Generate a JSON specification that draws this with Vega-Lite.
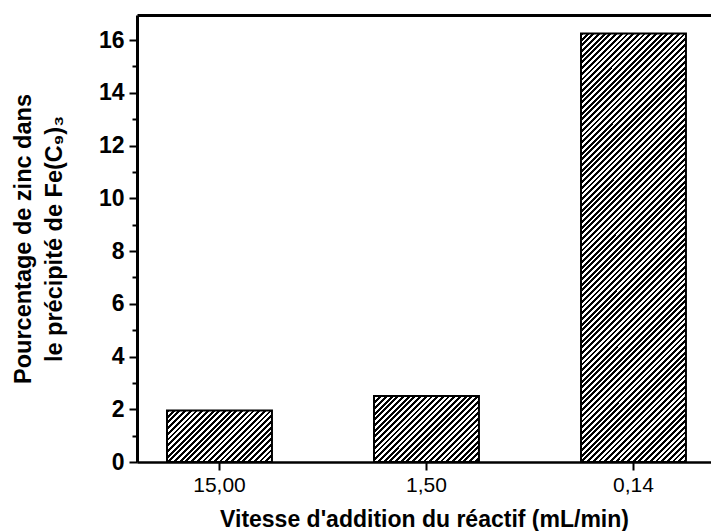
{
  "$schema": "https://vega.github.io/schema/vega-lite/v6.json",
  "width": 574,
  "height": 447,
  "autosize": {"type": "none"},
  "padding": {"left": 137, "top": 15, "right": 0, "bottom": 69},
  "background": "white",
  "config": {"view": {"stroke": null}, "font": "Liberation Sans"},
  "data": {"values": [
    {"vitesse": "15,00", "pct": 1.95},
    {"vitesse": "1,50", "pct": 2.5},
    {"vitesse": "0,14", "pct": 16.25}
  ]},
  "layer": [
    {
      "mark": {"type": "bar", "stroke": "black", "strokeWidth": 2},
      "encoding": {
        "x": {
          "field": "vitesse", "type": "nominal",
          "scale": {"domain": ["15,00", "1,50", "0,14"], "paddingInner": 0.493, "paddingOuter": 0.133, "align": 0.545},
          "axis": {
            "orient": "bottom", "labelAngle": 0, "labelFontSize": 21, "labelColor": "black",
            "labelPadding": 4, "tickSize": 8, "tickWidth": 2, "tickColor": "black",
            "domainColor": "black", "domainWidth": 2.5,
            "title": "Vitesse d'addition du réactif (mL/min)", "titleFontSize": 23,
            "titleFontWeight": "bold", "titleColor": "black", "titlePadding": 13
          }
        },
        "y": {
          "field": "pct", "type": "quantitative",
          "scale": {"domain": [0, 16.95], "nice": false},
          "axis": {
            "values": [0, 2, 4, 6, 8, 10, 12, 14, 16], "grid": false,
            "tickSize": 8, "tickWidth": 2, "tickColor": "black",
            "domainColor": "black", "domainWidth": 3,
            "labelFontSize": 23, "labelFontWeight": "bold", "labelColor": "black", "labelPadding": 5,
            "title": ["Pourcentage de zinc dans", "le précipité de Fe(C₉)₃"],
            "titleFontSize": 23.5, "titleFontWeight": "bold", "titleColor": "black",
            "titleLineHeight": 31, "titlePadding": 32
          }
        },
        "fill": {
          "condition": [
            {"test": "datum.vitesse === '15,00'", "value": {"gradient": "linear", "x1": 0, "y1": 0, "x2": 4.378, "y2": 2.144, "stops": [
{"offset":0,"color":"#000"},
{"offset":0.005,"color":"#000"},{"offset":0.005,"color":"#fff"},{"offset":0.01,"color":"#fff"},{"offset":0.01,"color":"#000"},
{"offset":0.015,"color":"#000"},{"offset":0.015,"color":"#fff"},{"offset":0.02,"color":"#fff"},{"offset":0.02,"color":"#000"},
{"offset":0.025,"color":"#000"},{"offset":0.025,"color":"#fff"},{"offset":0.03,"color":"#fff"},{"offset":0.03,"color":"#000"},
{"offset":0.035,"color":"#000"},{"offset":0.035,"color":"#fff"},{"offset":0.04,"color":"#fff"},{"offset":0.04,"color":"#000"},
{"offset":0.045,"color":"#000"},{"offset":0.045,"color":"#fff"},{"offset":0.05,"color":"#fff"},{"offset":0.05,"color":"#000"},
{"offset":0.055,"color":"#000"},{"offset":0.055,"color":"#fff"},{"offset":0.06,"color":"#fff"},{"offset":0.06,"color":"#000"},
{"offset":0.065,"color":"#000"},{"offset":0.065,"color":"#fff"},{"offset":0.07,"color":"#fff"},{"offset":0.07,"color":"#000"},
{"offset":0.075,"color":"#000"},{"offset":0.075,"color":"#fff"},{"offset":0.08,"color":"#fff"},{"offset":0.08,"color":"#000"},
{"offset":0.085,"color":"#000"},{"offset":0.085,"color":"#fff"},{"offset":0.09,"color":"#fff"},{"offset":0.09,"color":"#000"},
{"offset":0.095,"color":"#000"},{"offset":0.095,"color":"#fff"},{"offset":0.1,"color":"#fff"},{"offset":0.1,"color":"#000"},
{"offset":0.105,"color":"#000"},{"offset":0.105,"color":"#fff"},{"offset":0.11,"color":"#fff"},{"offset":0.11,"color":"#000"},
{"offset":0.115,"color":"#000"},{"offset":0.115,"color":"#fff"},{"offset":0.12,"color":"#fff"},{"offset":0.12,"color":"#000"},
{"offset":0.125,"color":"#000"},{"offset":0.125,"color":"#fff"},{"offset":0.13,"color":"#fff"},{"offset":0.13,"color":"#000"},
{"offset":0.135,"color":"#000"},{"offset":0.135,"color":"#fff"},{"offset":0.14,"color":"#fff"},{"offset":0.14,"color":"#000"},
{"offset":0.145,"color":"#000"},{"offset":0.145,"color":"#fff"},{"offset":0.15,"color":"#fff"},{"offset":0.15,"color":"#000"},
{"offset":0.155,"color":"#000"},{"offset":0.155,"color":"#fff"},{"offset":0.16,"color":"#fff"},{"offset":0.16,"color":"#000"},
{"offset":0.165,"color":"#000"},{"offset":0.165,"color":"#fff"},{"offset":0.17,"color":"#fff"},{"offset":0.17,"color":"#000"},
{"offset":0.175,"color":"#000"},{"offset":0.175,"color":"#fff"},{"offset":0.18,"color":"#fff"},{"offset":0.18,"color":"#000"},
{"offset":0.185,"color":"#000"},{"offset":0.185,"color":"#fff"},{"offset":0.19,"color":"#fff"},{"offset":0.19,"color":"#000"},
{"offset":0.195,"color":"#000"},{"offset":0.195,"color":"#fff"},{"offset":0.2,"color":"#fff"},{"offset":0.2,"color":"#000"},
{"offset":0.205,"color":"#000"},{"offset":0.205,"color":"#fff"},{"offset":0.21,"color":"#fff"},{"offset":0.21,"color":"#000"},
{"offset":0.215,"color":"#000"},{"offset":0.215,"color":"#fff"},{"offset":0.22,"color":"#fff"},{"offset":0.22,"color":"#000"},
{"offset":0.225,"color":"#000"},{"offset":0.225,"color":"#fff"},{"offset":0.23,"color":"#fff"},{"offset":0.23,"color":"#000"},
{"offset":0.235,"color":"#000"},{"offset":0.235,"color":"#fff"},{"offset":0.24,"color":"#fff"},{"offset":0.24,"color":"#000"},
{"offset":0.245,"color":"#000"},{"offset":0.245,"color":"#fff"},{"offset":0.25,"color":"#fff"},{"offset":0.25,"color":"#000"},
{"offset":0.255,"color":"#000"},{"offset":0.255,"color":"#fff"},{"offset":0.26,"color":"#fff"},{"offset":0.26,"color":"#000"},
{"offset":0.265,"color":"#000"},{"offset":0.265,"color":"#fff"},{"offset":0.27,"color":"#fff"},{"offset":0.27,"color":"#000"},
{"offset":0.275,"color":"#000"},{"offset":0.275,"color":"#fff"},{"offset":0.28,"color":"#fff"},{"offset":0.28,"color":"#000"}
            ]}},
            {"test": "datum.vitesse === '1,50'", "value": {"gradient": "linear", "x1": 0, "y1": 0, "x2": 3.893, "y2": 2.445, "stops": [
{"offset":0,"color":"#000"},
{"offset":0.005,"color":"#000"},{"offset":0.005,"color":"#fff"},{"offset":0.01,"color":"#fff"},{"offset":0.01,"color":"#000"},
{"offset":0.015,"color":"#000"},{"offset":0.015,"color":"#fff"},{"offset":0.02,"color":"#fff"},{"offset":0.02,"color":"#000"},
{"offset":0.025,"color":"#000"},{"offset":0.025,"color":"#fff"},{"offset":0.03,"color":"#fff"},{"offset":0.03,"color":"#000"},
{"offset":0.035,"color":"#000"},{"offset":0.035,"color":"#fff"},{"offset":0.04,"color":"#fff"},{"offset":0.04,"color":"#000"},
{"offset":0.045,"color":"#000"},{"offset":0.045,"color":"#fff"},{"offset":0.05,"color":"#fff"},{"offset":0.05,"color":"#000"},
{"offset":0.055,"color":"#000"},{"offset":0.055,"color":"#fff"},{"offset":0.06,"color":"#fff"},{"offset":0.06,"color":"#000"},
{"offset":0.065,"color":"#000"},{"offset":0.065,"color":"#fff"},{"offset":0.07,"color":"#fff"},{"offset":0.07,"color":"#000"},
{"offset":0.075,"color":"#000"},{"offset":0.075,"color":"#fff"},{"offset":0.08,"color":"#fff"},{"offset":0.08,"color":"#000"},
{"offset":0.085,"color":"#000"},{"offset":0.085,"color":"#fff"},{"offset":0.09,"color":"#fff"},{"offset":0.09,"color":"#000"},
{"offset":0.095,"color":"#000"},{"offset":0.095,"color":"#fff"},{"offset":0.1,"color":"#fff"},{"offset":0.1,"color":"#000"},
{"offset":0.105,"color":"#000"},{"offset":0.105,"color":"#fff"},{"offset":0.11,"color":"#fff"},{"offset":0.11,"color":"#000"},
{"offset":0.115,"color":"#000"},{"offset":0.115,"color":"#fff"},{"offset":0.12,"color":"#fff"},{"offset":0.12,"color":"#000"},
{"offset":0.125,"color":"#000"},{"offset":0.125,"color":"#fff"},{"offset":0.13,"color":"#fff"},{"offset":0.13,"color":"#000"},
{"offset":0.135,"color":"#000"},{"offset":0.135,"color":"#fff"},{"offset":0.14,"color":"#fff"},{"offset":0.14,"color":"#000"},
{"offset":0.145,"color":"#000"},{"offset":0.145,"color":"#fff"},{"offset":0.15,"color":"#fff"},{"offset":0.15,"color":"#000"},
{"offset":0.155,"color":"#000"},{"offset":0.155,"color":"#fff"},{"offset":0.16,"color":"#fff"},{"offset":0.16,"color":"#000"},
{"offset":0.165,"color":"#000"},{"offset":0.165,"color":"#fff"},{"offset":0.17,"color":"#fff"},{"offset":0.17,"color":"#000"},
{"offset":0.175,"color":"#000"},{"offset":0.175,"color":"#fff"},{"offset":0.18,"color":"#fff"},{"offset":0.18,"color":"#000"},
{"offset":0.185,"color":"#000"},{"offset":0.185,"color":"#fff"},{"offset":0.19,"color":"#fff"},{"offset":0.19,"color":"#000"},
{"offset":0.195,"color":"#000"},{"offset":0.195,"color":"#fff"},{"offset":0.2,"color":"#fff"},{"offset":0.2,"color":"#000"},
{"offset":0.205,"color":"#000"},{"offset":0.205,"color":"#fff"},{"offset":0.21,"color":"#fff"},{"offset":0.21,"color":"#000"},
{"offset":0.215,"color":"#000"},{"offset":0.215,"color":"#fff"},{"offset":0.22,"color":"#fff"},{"offset":0.22,"color":"#000"},
{"offset":0.225,"color":"#000"},{"offset":0.225,"color":"#fff"},{"offset":0.23,"color":"#fff"},{"offset":0.23,"color":"#000"},
{"offset":0.235,"color":"#000"},{"offset":0.235,"color":"#fff"},{"offset":0.24,"color":"#fff"},{"offset":0.24,"color":"#000"},
{"offset":0.245,"color":"#000"},{"offset":0.245,"color":"#fff"},{"offset":0.25,"color":"#fff"},{"offset":0.25,"color":"#000"},
{"offset":0.255,"color":"#000"},{"offset":0.255,"color":"#fff"},{"offset":0.26,"color":"#fff"},{"offset":0.26,"color":"#000"},
{"offset":0.265,"color":"#000"},{"offset":0.265,"color":"#fff"},{"offset":0.27,"color":"#fff"},{"offset":0.27,"color":"#000"},
{"offset":0.275,"color":"#000"},{"offset":0.275,"color":"#fff"},{"offset":0.28,"color":"#fff"},{"offset":0.28,"color":"#000"},
{"offset":0.285,"color":"#000"},{"offset":0.285,"color":"#fff"},{"offset":0.29,"color":"#fff"},{"offset":0.29,"color":"#000"},
{"offset":0.295,"color":"#000"},{"offset":0.295,"color":"#fff"},{"offset":0.3,"color":"#fff"},{"offset":0.3,"color":"#000"},
{"offset":0.305,"color":"#000"},{"offset":0.305,"color":"#fff"}
            ]}}
          ],
          "value": {"gradient": "linear", "x1": 0, "y1": 0, "x2": 0.3074, "y2": 1.2548, "stops": [
{"offset":0,"color":"#000"},
{"offset":0.005,"color":"#000"},{"offset":0.005,"color":"#fff"},{"offset":0.01,"color":"#fff"},{"offset":0.01,"color":"#000"},
{"offset":0.015,"color":"#000"},{"offset":0.015,"color":"#fff"},{"offset":0.02,"color":"#fff"},{"offset":0.02,"color":"#000"},
{"offset":0.025,"color":"#000"},{"offset":0.025,"color":"#fff"},{"offset":0.03,"color":"#fff"},{"offset":0.03,"color":"#000"},
{"offset":0.035,"color":"#000"},{"offset":0.035,"color":"#fff"},{"offset":0.04,"color":"#fff"},{"offset":0.04,"color":"#000"},
{"offset":0.045,"color":"#000"},{"offset":0.045,"color":"#fff"},{"offset":0.05,"color":"#fff"},{"offset":0.05,"color":"#000"},
{"offset":0.055,"color":"#000"},{"offset":0.055,"color":"#fff"},{"offset":0.06,"color":"#fff"},{"offset":0.06,"color":"#000"},
{"offset":0.065,"color":"#000"},{"offset":0.065,"color":"#fff"},{"offset":0.07,"color":"#fff"},{"offset":0.07,"color":"#000"},
{"offset":0.075,"color":"#000"},{"offset":0.075,"color":"#fff"},{"offset":0.08,"color":"#fff"},{"offset":0.08,"color":"#000"},
{"offset":0.085,"color":"#000"},{"offset":0.085,"color":"#fff"},{"offset":0.09,"color":"#fff"},{"offset":0.09,"color":"#000"},
{"offset":0.095,"color":"#000"},{"offset":0.095,"color":"#fff"},{"offset":0.1,"color":"#fff"},{"offset":0.1,"color":"#000"},
{"offset":0.105,"color":"#000"},{"offset":0.105,"color":"#fff"},{"offset":0.11,"color":"#fff"},{"offset":0.11,"color":"#000"},
{"offset":0.115,"color":"#000"},{"offset":0.115,"color":"#fff"},{"offset":0.12,"color":"#fff"},{"offset":0.12,"color":"#000"},
{"offset":0.125,"color":"#000"},{"offset":0.125,"color":"#fff"},{"offset":0.13,"color":"#fff"},{"offset":0.13,"color":"#000"},
{"offset":0.135,"color":"#000"},{"offset":0.135,"color":"#fff"},{"offset":0.14,"color":"#fff"},{"offset":0.14,"color":"#000"},
{"offset":0.145,"color":"#000"},{"offset":0.145,"color":"#fff"},{"offset":0.15,"color":"#fff"},{"offset":0.15,"color":"#000"},
{"offset":0.155,"color":"#000"},{"offset":0.155,"color":"#fff"},{"offset":0.16,"color":"#fff"},{"offset":0.16,"color":"#000"},
{"offset":0.165,"color":"#000"},{"offset":0.165,"color":"#fff"},{"offset":0.17,"color":"#fff"},{"offset":0.17,"color":"#000"},
{"offset":0.175,"color":"#000"},{"offset":0.175,"color":"#fff"},{"offset":0.18,"color":"#fff"},{"offset":0.18,"color":"#000"},
{"offset":0.185,"color":"#000"},{"offset":0.185,"color":"#fff"},{"offset":0.19,"color":"#fff"},{"offset":0.19,"color":"#000"},
{"offset":0.195,"color":"#000"},{"offset":0.195,"color":"#fff"},{"offset":0.2,"color":"#fff"},{"offset":0.2,"color":"#000"},
{"offset":0.205,"color":"#000"},{"offset":0.205,"color":"#fff"},{"offset":0.21,"color":"#fff"},{"offset":0.21,"color":"#000"},
{"offset":0.215,"color":"#000"},{"offset":0.215,"color":"#fff"},{"offset":0.22,"color":"#fff"},{"offset":0.22,"color":"#000"},
{"offset":0.225,"color":"#000"},{"offset":0.225,"color":"#fff"},{"offset":0.23,"color":"#fff"},{"offset":0.23,"color":"#000"},
{"offset":0.235,"color":"#000"},{"offset":0.235,"color":"#fff"},{"offset":0.24,"color":"#fff"},{"offset":0.24,"color":"#000"},
{"offset":0.245,"color":"#000"},{"offset":0.245,"color":"#fff"},{"offset":0.25,"color":"#fff"},{"offset":0.25,"color":"#000"},
{"offset":0.255,"color":"#000"},{"offset":0.255,"color":"#fff"},{"offset":0.26,"color":"#fff"},{"offset":0.26,"color":"#000"},
{"offset":0.265,"color":"#000"},{"offset":0.265,"color":"#fff"},{"offset":0.27,"color":"#fff"},{"offset":0.27,"color":"#000"},
{"offset":0.275,"color":"#000"},{"offset":0.275,"color":"#fff"},{"offset":0.28,"color":"#fff"},{"offset":0.28,"color":"#000"},
{"offset":0.285,"color":"#000"},{"offset":0.285,"color":"#fff"},{"offset":0.29,"color":"#fff"},{"offset":0.29,"color":"#000"},
{"offset":0.295,"color":"#000"},{"offset":0.295,"color":"#fff"},{"offset":0.3,"color":"#fff"},{"offset":0.3,"color":"#000"},
{"offset":0.305,"color":"#000"},{"offset":0.305,"color":"#fff"},{"offset":0.31,"color":"#fff"},{"offset":0.31,"color":"#000"},
{"offset":0.315,"color":"#000"},{"offset":0.315,"color":"#fff"},{"offset":0.32,"color":"#fff"},{"offset":0.32,"color":"#000"},
{"offset":0.325,"color":"#000"},{"offset":0.325,"color":"#fff"},{"offset":0.33,"color":"#fff"},{"offset":0.33,"color":"#000"},
{"offset":0.335,"color":"#000"},{"offset":0.335,"color":"#fff"},{"offset":0.34,"color":"#fff"},{"offset":0.34,"color":"#000"},
{"offset":0.345,"color":"#000"},{"offset":0.345,"color":"#fff"},{"offset":0.35,"color":"#fff"},{"offset":0.35,"color":"#000"},
{"offset":0.355,"color":"#000"},{"offset":0.355,"color":"#fff"},{"offset":0.36,"color":"#fff"},{"offset":0.36,"color":"#000"},
{"offset":0.365,"color":"#000"},{"offset":0.365,"color":"#fff"},{"offset":0.37,"color":"#fff"},{"offset":0.37,"color":"#000"},
{"offset":0.375,"color":"#000"},{"offset":0.375,"color":"#fff"},{"offset":0.38,"color":"#fff"},{"offset":0.38,"color":"#000"},
{"offset":0.385,"color":"#000"},{"offset":0.385,"color":"#fff"},{"offset":0.39,"color":"#fff"},{"offset":0.39,"color":"#000"},
{"offset":0.395,"color":"#000"},{"offset":0.395,"color":"#fff"},{"offset":0.4,"color":"#fff"},{"offset":0.4,"color":"#000"},
{"offset":0.405,"color":"#000"},{"offset":0.405,"color":"#fff"},{"offset":0.41,"color":"#fff"},{"offset":0.41,"color":"#000"},
{"offset":0.415,"color":"#000"},{"offset":0.415,"color":"#fff"},{"offset":0.42,"color":"#fff"},{"offset":0.42,"color":"#000"},
{"offset":0.425,"color":"#000"},{"offset":0.425,"color":"#fff"},{"offset":0.43,"color":"#fff"},{"offset":0.43,"color":"#000"},
{"offset":0.435,"color":"#000"},{"offset":0.435,"color":"#fff"},{"offset":0.44,"color":"#fff"},{"offset":0.44,"color":"#000"},
{"offset":0.445,"color":"#000"},{"offset":0.445,"color":"#fff"},{"offset":0.45,"color":"#fff"},{"offset":0.45,"color":"#000"},
{"offset":0.455,"color":"#000"},{"offset":0.455,"color":"#fff"},{"offset":0.46,"color":"#fff"},{"offset":0.46,"color":"#000"},
{"offset":0.465,"color":"#000"},{"offset":0.465,"color":"#fff"},{"offset":0.47,"color":"#fff"},{"offset":0.47,"color":"#000"},
{"offset":0.475,"color":"#000"},{"offset":0.475,"color":"#fff"},{"offset":0.48,"color":"#fff"},{"offset":0.48,"color":"#000"},
{"offset":0.485,"color":"#000"},{"offset":0.485,"color":"#fff"},{"offset":0.49,"color":"#fff"},{"offset":0.49,"color":"#000"},
{"offset":0.495,"color":"#000"},{"offset":0.495,"color":"#fff"},{"offset":0.5,"color":"#fff"},{"offset":0.5,"color":"#000"},
{"offset":0.505,"color":"#000"},{"offset":0.505,"color":"#fff"},{"offset":0.51,"color":"#fff"},{"offset":0.51,"color":"#000"},
{"offset":0.515,"color":"#000"},{"offset":0.515,"color":"#fff"},{"offset":0.52,"color":"#fff"},{"offset":0.52,"color":"#000"},
{"offset":0.525,"color":"#000"},{"offset":0.525,"color":"#fff"},{"offset":0.53,"color":"#fff"},{"offset":0.53,"color":"#000"},
{"offset":0.535,"color":"#000"},{"offset":0.535,"color":"#fff"},{"offset":0.54,"color":"#fff"},{"offset":0.54,"color":"#000"},
{"offset":0.545,"color":"#000"},{"offset":0.545,"color":"#fff"},{"offset":0.55,"color":"#fff"},{"offset":0.55,"color":"#000"},
{"offset":0.555,"color":"#000"},{"offset":0.555,"color":"#fff"},{"offset":0.56,"color":"#fff"},{"offset":0.56,"color":"#000"},
{"offset":0.565,"color":"#000"},{"offset":0.565,"color":"#fff"},{"offset":0.57,"color":"#fff"},{"offset":0.57,"color":"#000"},
{"offset":0.575,"color":"#000"},{"offset":0.575,"color":"#fff"},{"offset":0.58,"color":"#fff"},{"offset":0.58,"color":"#000"},
{"offset":0.585,"color":"#000"},{"offset":0.585,"color":"#fff"},{"offset":0.59,"color":"#fff"},{"offset":0.59,"color":"#000"},
{"offset":0.595,"color":"#000"},{"offset":0.595,"color":"#fff"},{"offset":0.6,"color":"#fff"},{"offset":0.6,"color":"#000"},
{"offset":0.605,"color":"#000"},{"offset":0.605,"color":"#fff"},{"offset":0.61,"color":"#fff"},{"offset":0.61,"color":"#000"},
{"offset":0.615,"color":"#000"},{"offset":0.615,"color":"#fff"},{"offset":0.62,"color":"#fff"},{"offset":0.62,"color":"#000"},
{"offset":0.625,"color":"#000"},{"offset":0.625,"color":"#fff"},{"offset":0.63,"color":"#fff"},{"offset":0.63,"color":"#000"},
{"offset":0.635,"color":"#000"},{"offset":0.635,"color":"#fff"},{"offset":0.64,"color":"#fff"},{"offset":0.64,"color":"#000"},
{"offset":0.645,"color":"#000"},{"offset":0.645,"color":"#fff"},{"offset":0.65,"color":"#fff"},{"offset":0.65,"color":"#000"},
{"offset":0.655,"color":"#000"},{"offset":0.655,"color":"#fff"},{"offset":0.66,"color":"#fff"},{"offset":0.66,"color":"#000"},
{"offset":0.665,"color":"#000"},{"offset":0.665,"color":"#fff"},{"offset":0.67,"color":"#fff"},{"offset":0.67,"color":"#000"},
{"offset":0.675,"color":"#000"},{"offset":0.675,"color":"#fff"},{"offset":0.68,"color":"#fff"},{"offset":0.68,"color":"#000"},
{"offset":0.685,"color":"#000"},{"offset":0.685,"color":"#fff"},{"offset":0.69,"color":"#fff"},{"offset":0.69,"color":"#000"},
{"offset":0.695,"color":"#000"},{"offset":0.695,"color":"#fff"},{"offset":0.7,"color":"#fff"},{"offset":0.7,"color":"#000"},
{"offset":0.705,"color":"#000"},{"offset":0.705,"color":"#fff"},{"offset":0.71,"color":"#fff"},{"offset":0.71,"color":"#000"},
{"offset":0.715,"color":"#000"},{"offset":0.715,"color":"#fff"},{"offset":0.72,"color":"#fff"},{"offset":0.72,"color":"#000"},
{"offset":0.725,"color":"#000"},{"offset":0.725,"color":"#fff"},{"offset":0.73,"color":"#fff"},{"offset":0.73,"color":"#000"},
{"offset":0.735,"color":"#000"},{"offset":0.735,"color":"#fff"},{"offset":0.74,"color":"#fff"},{"offset":0.74,"color":"#000"},
{"offset":0.745,"color":"#000"},{"offset":0.745,"color":"#fff"},{"offset":0.75,"color":"#fff"},{"offset":0.75,"color":"#000"},
{"offset":0.755,"color":"#000"},{"offset":0.755,"color":"#fff"},{"offset":0.76,"color":"#fff"},{"offset":0.76,"color":"#000"},
{"offset":0.765,"color":"#000"},{"offset":0.765,"color":"#fff"},{"offset":0.77,"color":"#fff"},{"offset":0.77,"color":"#000"},
{"offset":0.775,"color":"#000"},{"offset":0.775,"color":"#fff"},{"offset":0.78,"color":"#fff"},{"offset":0.78,"color":"#000"},
{"offset":0.785,"color":"#000"},{"offset":0.785,"color":"#fff"},{"offset":0.79,"color":"#fff"},{"offset":0.79,"color":"#000"},
{"offset":0.795,"color":"#000"},{"offset":0.795,"color":"#fff"},{"offset":0.8,"color":"#fff"},{"offset":0.8,"color":"#000"},
{"offset":0.805,"color":"#000"},{"offset":0.805,"color":"#fff"},{"offset":0.81,"color":"#fff"},{"offset":0.81,"color":"#000"},
{"offset":0.815,"color":"#000"},{"offset":0.815,"color":"#fff"},{"offset":0.82,"color":"#fff"},{"offset":0.82,"color":"#000"},
{"offset":0.825,"color":"#000"},{"offset":0.825,"color":"#fff"},{"offset":0.83,"color":"#fff"},{"offset":0.83,"color":"#000"},
{"offset":0.835,"color":"#000"},{"offset":0.835,"color":"#fff"},{"offset":0.84,"color":"#fff"},{"offset":0.84,"color":"#000"},
{"offset":0.845,"color":"#000"},{"offset":0.845,"color":"#fff"},{"offset":0.85,"color":"#fff"},{"offset":0.85,"color":"#000"},
{"offset":0.855,"color":"#000"},{"offset":0.855,"color":"#fff"},{"offset":0.86,"color":"#fff"},{"offset":0.86,"color":"#000"},
{"offset":0.865,"color":"#000"},{"offset":0.865,"color":"#fff"},{"offset":0.87,"color":"#fff"},{"offset":0.87,"color":"#000"},
{"offset":0.875,"color":"#000"},{"offset":0.875,"color":"#fff"},{"offset":0.88,"color":"#fff"},{"offset":0.88,"color":"#000"},
{"offset":0.885,"color":"#000"},{"offset":0.885,"color":"#fff"},{"offset":0.89,"color":"#fff"},{"offset":0.89,"color":"#000"},
{"offset":0.895,"color":"#000"},{"offset":0.895,"color":"#fff"},{"offset":0.9,"color":"#fff"},{"offset":0.9,"color":"#000"},
{"offset":0.905,"color":"#000"},{"offset":0.905,"color":"#fff"},{"offset":0.91,"color":"#fff"},{"offset":0.91,"color":"#000"},
{"offset":0.915,"color":"#000"},{"offset":0.915,"color":"#fff"},{"offset":0.92,"color":"#fff"},{"offset":0.92,"color":"#000"},
{"offset":0.925,"color":"#000"},{"offset":0.925,"color":"#fff"},{"offset":0.93,"color":"#fff"},{"offset":0.93,"color":"#000"},
{"offset":0.935,"color":"#000"},{"offset":0.935,"color":"#fff"},{"offset":0.94,"color":"#fff"},{"offset":0.94,"color":"#000"}
          ]}
        }
      }
    },
    {
      "mark": {"type": "bar", "opacity": 0},
      "encoding": {
        "x": {
          "field": "vitesse", "type": "nominal",
          "axis": {"orient": "top", "labels": false, "ticks": false, "title": null,
                   "domainColor": "black", "domainWidth": 3}
        },
        "y": {
          "field": "pct", "type": "quantitative",
          "axis": {"orient": "left", "values": [1, 3, 5, 7, 9, 11, 13, 15], "labels": false,
                   "grid": false, "domain": false, "title": null,
                   "tickSize": 5, "tickWidth": 2, "tickColor": "black"}
        }
      }
    }
  ],
  "resolve": {"axis": {"x": "independent", "y": "independent"}}
}
